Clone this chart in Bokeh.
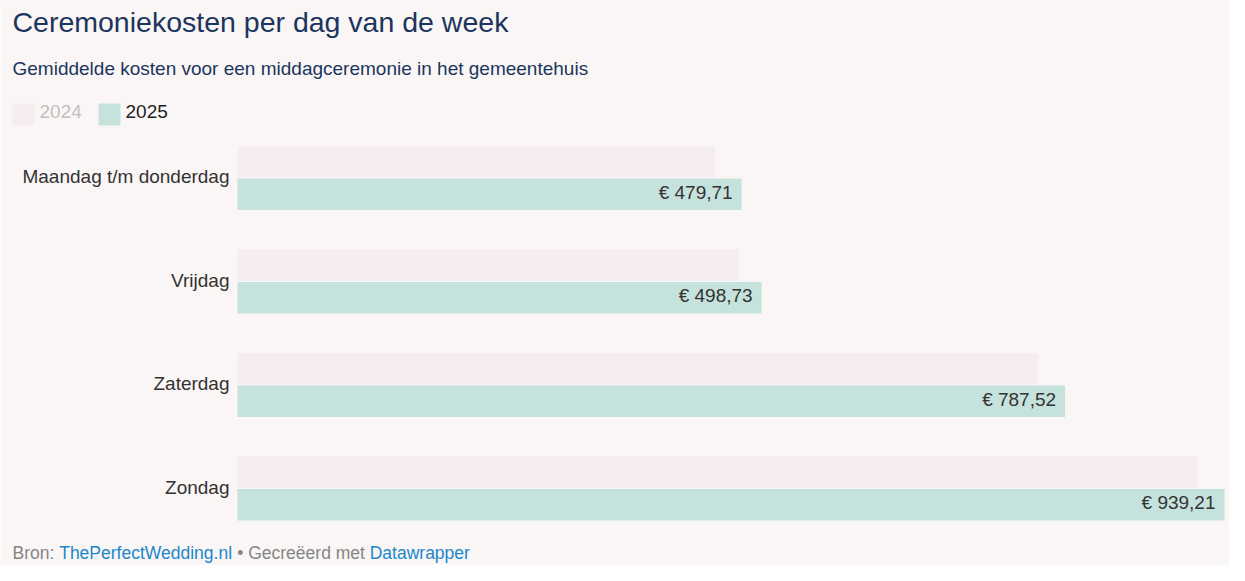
from bokeh.plotting import figure
from bokeh.models import ColumnDataSource, Range1d
from bokeh.core.properties import value
from bokeh.embed import file_html
from bokeh.resources import INLINE

# ---------------- data ----------------
categories = ["Maandag t/m donderdag", "Vrijdag", "Zaterdag", "Zondag"]
kosten_2024 = [454.5, 477.1, 761.8, 912.9]
kosten_2025 = [479.71, 498.73, 787.52, 939.21]
series_names = ["2024", "2025"]

# ---------------- style / layout ----------------
FONT = "Liberation Sans"
BG = "#f9f6f5"
C2024 = "#f5edf0"
C2025 = "#c6e2dc"
NAVY = "#1c355e"
TXT = "#333333"
GRAY = "#858585"
LINK = "#1d87c9"

W, H = 1229, 565
BAR_X0 = 237          # pixel where value 0 sits
BAR_X_MAX = 1224      # pixel where the largest value ends
ROW0 = 177.5          # pixel centre of first row
ROW_PX = 103.5        # pixel distance between rows
BAR_PX = 31.5         # bar thickness in pixels
TXT_SHIFT = 1.5       # correction for middle-baseline rendering

p = figure(width=W, height=H, output_backend="svg", toolbar_location=None,
           x_range=Range1d(0, W), y_range=Range1d(H, 0),
           x_axis_location=None, y_axis_location=None,
           min_border=0, min_border_left=0, min_border_right=0,
           min_border_top=0, min_border_bottom=0)
p.background_fill_color = BG
p.border_fill_color = BG
p.outline_line_color = None
p.grid.visible = False

# value scale and row scale (extra ranges mapped onto the whole canvas)
s = (BAR_X_MAX - BAR_X0) / max(kosten_2025)
p.extra_x_ranges = {"val": Range1d(-BAR_X0 / s, (W - BAR_X0) / s)}
p.extra_y_ranges = {"rows": Range1d((H - ROW0) / ROW_PX, -ROW0 / ROW_PX)}

rows = list(range(len(categories)))
bh = BAR_PX / ROW_PX
gap = 0.5 / ROW_PX
ts = TXT_SHIFT / ROW_PX
src = ColumnDataSource(dict(
    row=rows,
    row_txt=[r - ts for r in rows],
    cat=categories,
    y2024=[r - bh / 2 - gap for r in rows],
    y2025=[r + bh / 2 + gap for r in rows],
    y2025_txt=[r + bh / 2 + gap - ts - 0.5 / ROW_PX for r in rows],
    v2024=kosten_2024,
    v2025=kosten_2025,
    lab2025=["€ " + f"{v:.2f}".replace(".", ",") for v in kosten_2025],
))

p.hbar(y="y2024", left=0, right="v2024", height=bh, source=src,
       fill_color=C2024, line_color=None, x_range_name="val", y_range_name="rows")
p.hbar(y="y2025", left=0, right="v2025", height=bh, source=src,
       fill_color=C2025, line_color=None, x_range_name="val", y_range_name="rows")

# value labels inside the 2025 bars
p.text(x="v2025", y="y2025_txt", text="lab2025", source=src, x_offset=-9,
       text_align="right", text_baseline="middle", text_color=TXT,
       text_font=value(FONT), text_font_size="19px",
       x_range_name="val", y_range_name="rows")

# category labels left of the bars
p.text(x=0, y="row_txt", text="cat", source=src, x_offset=-8,
       text_align="right", text_baseline="middle", text_color=TXT,
       text_font=value(FONT), text_font_size="19px",
       x_range_name="val", y_range_name="rows")


def txt(t, x, y, size, color):
    p.text(x=[x], y=[y - TXT_SHIFT], text=[t], text_font=value(FONT), text_font_size=size,
           text_color=color, text_align="left", text_baseline="middle")


# title + subtitle
txt("Ceremoniekosten per dag van de week", 12, 22.5, "28.5px", NAVY)
txt("Gemiddelde kosten voor een middagceremonie in het gemeentehuis", 12, 69.5, "19px", NAVY)

# legend
legend_items = [(series_names[0], C2024, "#c4bfbf", 12),
                (series_names[1], C2025, "#222222", 98)]
for name, fill, tcol, x0 in legend_items:
    p.rect(x=[x0 + 11], y=[114], width=22, height=22, fill_color=fill, line_color=None)
    txt(name, x0 + 27, 112.5, "19px", tcol)

# footer
FOOT_Y = 554
txt("Bron:", 12, FOOT_Y, "17.5px", GRAY)
txt("ThePerfectWedding.nl", 58.7, FOOT_Y, "17.5px", LINK)
txt("• Gecreëerd met", 236.7, FOOT_Y, "17.5px", GRAY)
txt("Datawrapper", 369.2, FOOT_Y, "17.5px", LINK)

open("out.html", "w").write(file_html(p, INLINE))
